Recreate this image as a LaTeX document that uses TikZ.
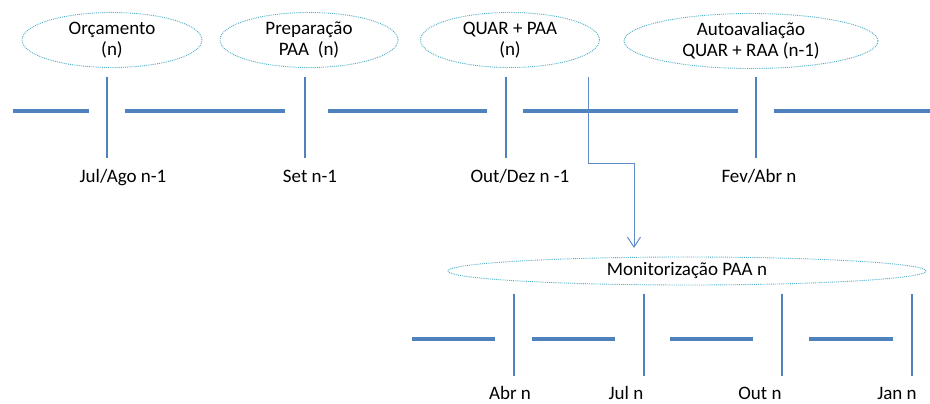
\documentclass[tikz,border=0pt]{standalone}
\usepackage{fontspec}
\setmainfont{Carlito}
\usetikzlibrary{shapes.geometric,arrows.meta}
\definecolor{lineblue}{RGB}{79,129,189}
\definecolor{ovalblue}{RGB}{75,172,198}
\definecolor{arrowblue}{RGB}{95,140,200}

\tikzset{
  phase/.style={ellipse, draw=ovalblue, densely dotted, line width=0.9pt,
    align=center, inner sep=0pt, font=\fontsize{19}{21}\selectfont},
  datelabel/.style={anchor=base, inner sep=0pt, font=\fontsize{19}{21}\selectfont},
  bar/.style={lineblue, line width=4pt},
  tick/.style={lineblue, line width=1.3pt}
}

\begin{document}
\begin{tikzpicture}[x=1pt, y=-1pt]
\useasboundingbox (0,0) rectangle (930,404);

% top timeline
\foreach\a/\b in {13/89, 125/285, 328/487, 523/738, 774/930}
\draw[bar] (\a,111) -- (\b,111);
\foreach\x in {107, 305, 506, 756}
\draw[tick] (\x,77) -- (\x,158);

\node[phase, minimum width=180, minimum height=55] (orc) at (112,40) {Orçamento\\(n)};
\node[phase, minimum width=178, minimum height=55] (prep) at (309,40) {Preparação\\PAA~ (n)};
\node[phase, minimum width=179, minimum height=55] (quar) at (510,40) {QUAR + PAA\\(n)};
\node[phase, minimum width=254, minimum height=55] (auto) at (751,41) {Autoavaliação\\QUAR + RAA (n-1)};

\node[datelabel] (jul) at (123,182) {Jul/Ago n-1};
\node[datelabel] (set) at (310,182) {Set n-1};
\node[datelabel] (out) at (520,182) {Out/Dez n -1};
\node[datelabel] (fev) at (759,182) {Fev/Abr n};

% bottom timeline
\foreach\a/\b in {412/495, 532/615, 670/753, 809/893}
\draw[bar] (\a,339) -- (\b,339);
\foreach\x in {514, 644, 782, 912}
\draw[tick] (\x,294) -- (\x,376);

\node[phase, minimum width=478, minimum height=28] (mon) at (687,271) {Monitorização PAA n};

\node[datelabel] (abr) at (510,399) {Abr n};
\node[datelabel] (juln) at (626,399) {Jul n};
\node[datelabel] (outn) at (760,399) {Out n};
\node[datelabel] (jan) at (897,399) {Jan n};

% arrow
\coordinate (start) at (588,77);
\draw[arrowblue, line width=1pt, -{Straight Barb[length=10pt, width=13pt]}]
  (start) -- (588,163) -- (634,163) -- (634,248);
\end{tikzpicture}
\end{document}
